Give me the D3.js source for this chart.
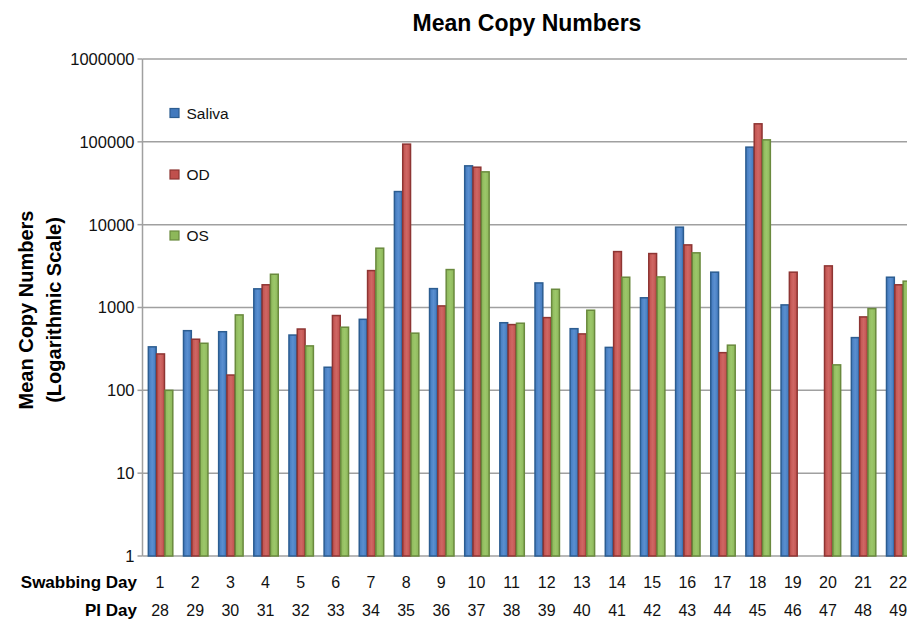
<!DOCTYPE html>
<html><head><meta charset="utf-8">
<script src="https://cdn.jsdelivr.net/npm/d3@7"></script>
<style>body{margin:0;background:#fff;} text{font-family:"Liberation Sans",Arial,Helvetica,sans-serif;}</style>
</head><body>
<script>
const swabDays = ["1","2","3","4","5","6","7","8","9","10","11","12","13","14","15","16","17","18","19","20","21","22"];
const piDays = ["28","29","30","31","32","33","34","35","36","37","38","39","40","41","42","43","44","45","46","47","48","49"];
const saliva = [335,525,510,1680,465,190,720,25100,1690,51300,655,1980,555,330,1310,9330,2670,86300,1075,null,433,2320];
const od     = [275,414,153,1880,550,800,2790,93800,1045,49400,622,755,480,4730,4480,5700,285,165000,2670,3180,770,1880];
const os     = [100,370,814,2520,344,578,5200,490,2870,43400,646,1660,927,2320,2340,4570,351,105700,null,203,970,2080];
const seriesNames = ["Saliva","OD","OS"];
const yTicks = [1,10,100,1000,10000,100000,1000000];

const colors = {Saliva:{fill:"#4279bd",stroke:"#2c5d91",light:"#5a8fd0"},
                OD:{fill:"#c0504d",stroke:"#8e3533",light:"#cf6764"},
                OS:{fill:"#8db75a",stroke:"#6a8a3e",light:"#9cc76a"}};

const W=907,H=620;
const svg=d3.select("body").append("svg").attr("width",W).attr("height",H);
const defs=svg.append("defs");
seriesNames.forEach(s=>{
  const g=defs.append("linearGradient").attr("id","g"+s).attr("x1","0").attr("x2","1").attr("y1","0").attr("y2","0");
  g.append("stop").attr("offset","0").attr("stop-color",colors[s].fill);
  g.append("stop").attr("offset","0.5").attr("stop-color",colors[s].light);
  g.append("stop").attr("offset","1").attr("stop-color",colors[s].fill);
});

const x0=142.5, step=35.15;
const x=d3.scaleBand().domain(swabDays).range([x0,x0+step*swabDays.length]).paddingInner(0.29).paddingOuter(0.145);
const xs=d3.scaleBand().domain(seriesNames).range([0,x.bandwidth()]);
const y=d3.scaleLog().domain([1,1000000]).range([556,59]);

// gridlines
svg.append("g").selectAll("line").data(yTicks).join("line")
  .attr("x1",x0).attr("x2",W).attr("y1",d=>y(d)).attr("y2",d=>y(d))
  .attr("stroke","#a0a0a0").attr("stroke-width",1.5);
// y axis line
svg.append("line").attr("x1",x0).attr("x2",x0).attr("y1",y(1000000)).attr("y2",y(1)).attr("stroke","#a0a0a0").attr("stroke-width",1.5);
// ticks
svg.append("g").selectAll("line").data(yTicks).join("line")
  .attr("x1",x0-5).attr("x2",x0).attr("y1",d=>y(d)).attr("y2",d=>y(d)).attr("stroke","#a0a0a0").attr("stroke-width",1.5);
svg.append("g").selectAll("text").data(yTicks).join("text")
  .attr("x",x0-8).attr("y",d=>y(d)).attr("dy","0.36em").attr("text-anchor","end")
  .attr("font-size",16.5).attr("fill","#111").text(d=>d3.format("d")(d));

const data={Saliva:saliva,OD:od,OS:os};
seriesNames.forEach(s=>{
  svg.append("g").selectAll("rect").data(swabDays.map((d,i)=>({d,v:data[s][i]})).filter(e=>e.v!=null)).join("rect")
    .attr("x",e=>x(e.d)+xs(s)+0.75).attr("width",xs.bandwidth()-0.5)
    .attr("y",e=>y(e.v)).attr("height",e=>y(1)-y(e.v))
    .attr("fill","url(#g"+s+")").attr("stroke",colors[s].stroke).attr("stroke-width",1.5);
});

// legend
const legY=[113,174.5,235.5];
seriesNames.forEach((s,i)=>{
  svg.append("rect").attr("x",170).attr("y",legY[i]-4.5).attr("width",9).attr("height",9)
    .attr("fill",colors[s].fill).attr("stroke",colors[s].stroke).attr("stroke-width",1.2);
  svg.append("text").attr("x",186.5).attr("y",legY[i]).attr("dy","0.36em").attr("font-size",15.5).attr("fill","#111").text(s);
});

// title
svg.append("text").attr("x",527).attr("y",30.5).attr("text-anchor","middle").attr("font-size",23).attr("font-weight","bold").text("Mean Copy Numbers");
// y label
const yl=svg.append("text").attr("transform","translate(0,310) rotate(-90)").attr("text-anchor","middle").attr("font-size",20).attr("font-weight","bold");
yl.append("tspan").attr("x",0).attr("y",33).text("Mean Copy Numbers");
yl.append("tspan").attr("x",0).attr("y",61).text("(Logarithmic Scale)");

// category labels
svg.append("text").attr("x",137).attr("y",588).attr("text-anchor","end").attr("font-size",17).attr("font-weight","bold").text("Swabbing Day");
svg.append("text").attr("x",137).attr("y",615.5).attr("text-anchor","end").attr("font-size",17).attr("font-weight","bold").text("PI Day");
svg.append("g").selectAll("text").data(swabDays).join("text")
  .attr("x",d=>x(d)+x.bandwidth()/2).attr("y",588).attr("text-anchor","middle").attr("font-size",16).attr("fill","#111").text(d=>d);
svg.append("g").selectAll("text").data(piDays).join("text")
  .attr("x",(d,i)=>x(swabDays[i])+x.bandwidth()/2).attr("y",615.5).attr("text-anchor","middle").attr("font-size",16).attr("fill","#111").text(d=>d);
</script>
</body></html>
